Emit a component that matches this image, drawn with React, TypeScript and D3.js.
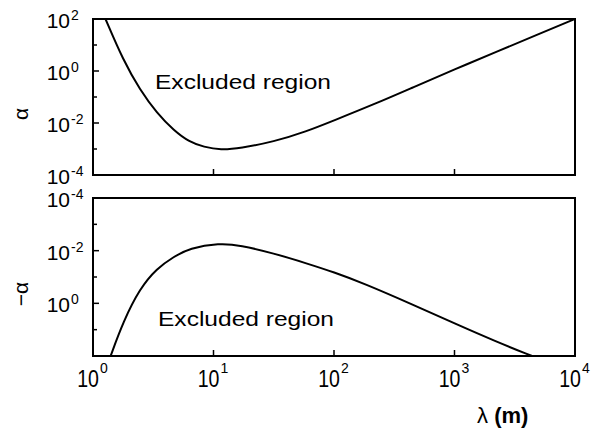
import React, { useEffect, useRef } from "react"
import * as d3 from "d3"

// alpha > 0 boundary (upper panel)
const lambdaTop = [1.27, 1.78, 2.45, 3.39, 4.68, 6.31, 8.3, 11.5, 16.6, 31.6, 58.9, 100, 214, 457, 1000, 2239, 4786, 10000]
const alphaTop = [100, 2.6, 0.19, 0.024, 0.0052, 0.00186, 0.0012, 0.00091, 0.00107, 0.0019, 0.0047, 0.0126, 0.052, 0.24, 1.15, 5.5, 24, 100]

// alpha < 0 boundary (lower panel, plotted as -alpha)
const lambdaBot = [1.4, 1.78, 2.45, 3.39, 4.68, 6.31, 11.2, 16.6, 31.6, 58.9, 100, 174, 457, 1000, 2239, 4400]
const negAlphaBot = [100, 5.0, 0.27, 0.047, 0.017, 0.0081, 0.0052, 0.0062, 0.0126, 0.03, 0.066, 0.17, 1.15, 5.8, 29, 100]

const xTickExps = [0, 1, 2, 3, 4]
const yMajorTop = [2, 0, -2, -4]
const yMinorTop = [1, -1, -3]
const yLabelsBot = [-4, -2, 0]
const yMajorBot = [-4, -2, 0, 2]
const yMinorBot = [-3, -1, 1]

const FONT = "'Liberation Sans', Arial, Helvetica, sans-serif"

export default function App() {
  const ref = useRef<SVGSVGElement>(null)

  useEffect(() => {
    const svg = d3.select(ref.current)
    svg.selectAll("*").remove()

    const left = 93
    const right = 575
    const x = d3.scaleLog().domain([1, 1e4]).range([left, right])
    const yTop = d3.scaleLog().domain([1e-4, 1e2]).range([175, 19])
    const yBot = d3.scaleLog().domain([1e-4, 1e2]).range([198, 356])

    const panels = [
      { y: yTop, lam: lambdaTop, val: alphaTop, major: yMajorTop, minor: yMinorTop, labels: yMajorTop, id: "clipTop" },
      { y: yBot, lam: lambdaBot, val: negAlphaBot, major: yMajorBot, minor: yMinorBot, labels: yLabelsBot, id: "clipBot" },
    ]

    panels.forEach(p => {
      const [y0, y1] = p.y.range()
      const top = Math.min(y0, y1)
      const bottom = Math.max(y0, y1)

      svg.append("clipPath").attr("id", p.id)
        .append("rect").attr("x", left).attr("y", top).attr("width", right - left).attr("height", bottom - top)

      const line = d3.line<number>()
        .x((_, i) => x(p.lam[i]))
        .y(d => p.y(d))
        .curve(d3.curveBasis)

      svg.append("path")
        .attr("d", line(p.val))
        .attr("fill", "none")
        .attr("stroke", "#000")
        .attr("stroke-width", 2)
        .attr("clip-path", `url(#${p.id})`)

      // y ticks, inward
      p.major.forEach(e => {
        svg.append("line").attr("x1", left).attr("x2", left + 6)
          .attr("y1", p.y(10 ** e)).attr("y2", p.y(10 ** e))
          .attr("stroke", "#000").attr("stroke-width", 1.5)
      })
      p.minor.forEach(e => {
        svg.append("line").attr("x1", left).attr("x2", left + 4)
          .attr("y1", p.y(10 ** e)).attr("y2", p.y(10 ** e))
          .attr("stroke", "#000").attr("stroke-width", 1.5)
      })
      // x ticks, inward from bottom
      xTickExps.forEach(e => {
        svg.append("line").attr("x1", x(10 ** e)).attr("x2", x(10 ** e))
          .attr("y1", bottom).attr("y2", bottom - 6)
          .attr("stroke", "#000").attr("stroke-width", 1.5)
      })

      // y tick labels
      p.labels.forEach(e => {
        const ty = p.y(10 ** e)
        svg.append("text").attr("x", 70).attr("y", ty + 9)
          .attr("text-anchor", "end").attr("font-family", FONT).attr("font-size", 21)
          .text("10")
        svg.append("text").attr("x", 71).attr("y", ty + 1)
          .attr("font-family", FONT).attr("font-size", 14)
          .text(String(e))
      })

      svg.append("rect")
        .attr("x", left).attr("y", top).attr("width", right - left).attr("height", bottom - top)
        .attr("fill", "none").attr("stroke", "#000").attr("stroke-width", 2)
    })

    // x tick labels
    xTickExps.forEach(e => {
      const tx = x(10 ** e)
      svg.append("text").attr("x", tx - 5).attr("y", 387)
        .attr("text-anchor", "middle").attr("font-family", FONT).attr("font-size", 23)
        .attr("transform", `translate(${tx - 5},0) scale(0.85,1) translate(${-(tx - 5)},0)`)
        .text("10")
      svg.append("text").attr("x", tx + 7).attr("y", 373)
        .attr("font-family", FONT).attr("font-size", 14)
        .text(String(e))
    })

    // region labels
    svg.append("text").attr("x", 155).attr("y", 89)
      .attr("font-family", FONT).attr("font-size", 21)
      .attr("textLength", 176).attr("lengthAdjust", "spacingAndGlyphs")
      .text("Excluded region")
    svg.append("text").attr("x", 158).attr("y", 326)
      .attr("font-family", FONT).attr("font-size", 21)
      .attr("textLength", 176).attr("lengthAdjust", "spacingAndGlyphs")
      .text("Excluded region")

    // axis titles
    svg.append("text")
      .attr("transform", "translate(28,114) rotate(-90)")
      .attr("text-anchor", "middle").attr("font-family", FONT).attr("font-size", 21)
      .text("α")
    svg.append("text")
      .attr("transform", "translate(28,294) rotate(-90)")
      .attr("text-anchor", "middle").attr("font-family", FONT).attr("font-size", 21)
      .text("−α")

    const xt = svg.append("text").attr("x", 477).attr("y", 423)
      .attr("font-family", FONT).attr("font-size", 22)
    xt.append("tspan").text("λ ")
    xt.append("tspan").attr("font-weight", "bold").text("(m)")
  }, [])

  return (
    <svg ref={ref} width={609} height={428}
      style={{ position: "absolute", left: 0, top: 0, background: "#fff" }} />
  )
}
